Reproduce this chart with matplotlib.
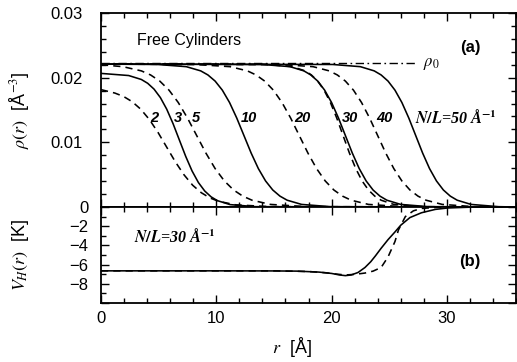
import matplotlib
matplotlib.use("Agg")
import matplotlib.pyplot as plt
from matplotlib.ticker import MultipleLocator, FuncFormatter

plt.rcParams['font.family'] = ['Liberation Sans', 'DejaVu Sans']
plt.rcParams['mathtext.fontset'] = 'stix'

# ---------------- data ----------------
# panel (a): density profiles rho(r) for several N/L
r_n2 = [0, 1.2, 1.95, 2.7, 3.45, 4.2, 4.95, 5.7, 6.45, 7.2, 7.95, 8.7, 9.45, 10.2, 11.7, 14.7, 36]
rho_n2 = [0.01815, 0.01762, 0.01710, 0.01629, 0.01512, 0.01352, 0.01152, 0.00925, 0.00698,
          0.00498, 0.00337, 0.00221, 0.00140, 0.00088, 0.00033, 0.00005, 0]

r_n3 = [0, 2.4, 3.5, 4.05, 4.6, 5.15, 5.7, 6.25, 6.8, 7.35, 7.9, 8.45, 9.0, 9.55, 10.1, 11.2, 13.4, 36]
rho_n3 = [0.02066, 0.02033, 0.01972, 0.01913, 0.01823, 0.01692, 0.01513, 0.01289, 0.01035,
          0.00782, 0.00557, 0.00378, 0.00247, 0.00157, 0.00098, 0.00037, 0.00005, 0]

r_n5 = [0, 1.9, 3.5, 4.3, 5.1, 5.9, 6.7, 7.5, 8.3, 9.1, 9.9, 10.7, 11.5, 12.3, 13.1, 14.7, 17.9, 36]
rho_n5 = [0.02200, 0.02170, 0.02105, 0.02042, 0.01947, 0.01807, 0.01616, 0.01376, 0.01105,
          0.00834, 0.00594, 0.00403, 0.00263, 0.00168, 0.00105, 0.00040, 0.00005, 0]

r_n10 = [0, 4.9, 7.4, 8.65, 9.275, 9.9, 10.525, 11.15, 11.775, 12.4, 13.025, 13.65, 14.275,
         14.9, 15.525, 16.15, 17.4, 19.9, 36]
rho_n10 = [0.02210, 0.02204, 0.02170, 0.02105, 0.02042, 0.01947, 0.01807, 0.01616, 0.01376,
           0.01105, 0.00834, 0.00594, 0.00403, 0.00263, 0.00168, 0.00105, 0.00040, 0.00005, 0]

r_n20 = [0, 8.2, 11.2, 12.7, 13.45, 14.2, 14.95, 15.7, 16.45, 17.2, 17.95, 18.7, 19.45,
         20.2, 20.95, 21.7, 23.2, 26.2, 36]
rho_n20 = [0.02210, 0.02204, 0.02170, 0.02105, 0.02042, 0.01947, 0.01807, 0.01616, 0.01376,
           0.01105, 0.00834, 0.00594, 0.00403, 0.00263, 0.00168, 0.00105, 0.00040, 0.00005, 0]

r_n30 = [0, 14.0, 16.4, 17.6, 18.2, 18.8, 19.4, 20.0, 20.6, 21.2, 21.8, 22.4, 23.0,
         23.6, 24.2, 24.8, 26.0, 28.4, 36]
rho_n30 = [0.02210, 0.02204, 0.02170, 0.02105, 0.02042, 0.01947, 0.01807, 0.01616, 0.01376,
           0.01105, 0.00834, 0.00594, 0.00403, 0.00263, 0.00168, 0.00105, 0.00040, 0.00005, 0]

r_n30d = [0, 14.4, 16.6, 17.7, 18.25, 18.8, 19.35, 19.9, 20.45, 21.0, 21.55, 22.1, 22.65,
          23.2, 23.75, 24.3, 25.4, 27.6, 36]
rho_n30d = [0.02210, 0.02204, 0.02170, 0.02105, 0.02042, 0.01947, 0.01807, 0.01616, 0.01376,
            0.01105, 0.00834, 0.00594, 0.00403, 0.00263, 0.00168, 0.00105, 0.00040, 0.00005, 0]

r_n40 = [0, 15.6, 18.4, 19.8, 20.5, 21.2, 21.9, 22.6, 23.3, 24.0, 24.7, 25.4, 26.1,
         26.8, 27.5, 28.2, 29.6, 32.4, 36]
rho_n40 = [0.02210, 0.02204, 0.02170, 0.02105, 0.02042, 0.01947, 0.01807, 0.01616, 0.01376,
           0.01105, 0.00834, 0.00594, 0.00403, 0.00263, 0.00168, 0.00105, 0.00040, 0.00005, 0]

r_n50 = [0, 20.1, 22.5, 23.7, 24.3, 24.9, 25.5, 26.1, 26.7, 27.3, 27.9, 28.5, 29.1,
         29.7, 30.3, 30.9, 32.1, 34.5, 36]
rho_n50 = [0.02210, 0.02204, 0.02170, 0.02105, 0.02042, 0.01947, 0.01807, 0.01616, 0.01376,
           0.01105, 0.00834, 0.00594, 0.00403, 0.00263, 0.00168, 0.00105, 0.00040, 0.00005, 0]

rho0_value = 0.0222
rho0_r = [0, 27.2]

# panel (b): Hartree potential V_H(r) for N/L = 30
r_vh_solid = [0, 10, 15, 17, 18.9, 20.0, 20.7, 21.2, 21.7, 22.3, 22.9, 23.4, 23.8, 24.3,
              24.9, 25.5, 26.0, 26.8, 27.8, 29.0, 30.1, 32.0, 36]
vh_solid = [-6.65, -6.65, -6.66, -6.68, -6.78, -6.92, -7.08, -7.15, -7.08, -6.82, -6.3, -5.7,
            -5.1, -4.3, -3.4, -2.6, -1.9, -1.1, -0.6, -0.25, -0.1, -0.02, 0]

r_vh_dash = [0, 15, 18, 19.5, 20.5, 21.2, 22.0, 22.9, 23.6, 24.3, 24.9, 25.5, 25.8, 26.4,
             27.1, 27.8, 29.0, 30.0, 36]
vh_dash = [-6.65, -6.65, -6.72, -6.85, -7.0, -7.08, -7.02, -6.88, -6.68, -6.3, -5.2, -3.6,
           -2.4, -1.0, -0.4, -0.15, -0.05, 0, 0]

curve_labels = ['2', '3', '5', '10', '20', '30', '40']
label_r = [4.65, 6.7, 8.2, 12.8, 17.5, 21.6, 24.6]
label_rho = 0.0137

# ---------------- figure ----------------
fig = plt.figure(figsize=(5.17, 3.62), dpi=100)
ax1 = fig.add_axes([101/517, 155/362, 415/517, 194/362])
ax2 = fig.add_axes([101/517, 59/362, 415/517, 96/362], sharex=ax1)

lw = 1.15
dash = (4.5, 3.2)
ax1.plot(r_n2, rho_n2, color='k', lw=lw, dashes=dash)
ax1.plot(r_n3, rho_n3, color='k', lw=lw)
ax1.plot(r_n5, rho_n5, color='k', lw=lw, dashes=dash)
ax1.plot(r_n10, rho_n10, color='k', lw=lw)
ax1.plot(r_n20, rho_n20, color='k', lw=lw, dashes=dash)
ax1.plot(r_n30, rho_n30, color='k', lw=lw)
ax1.plot(r_n30d, rho_n30d, color='k', lw=lw, dashes=dash)
ax1.plot(r_n40, rho_n40, color='k', lw=lw, dashes=dash)
ax1.plot(r_n50, rho_n50, color='k', lw=lw)
ax1.plot(rho0_r, [rho0_value, rho0_value], color='k', lw=1.0, dashes=(6, 2.5, 1.2, 2.5))

ax2.plot(r_vh_solid, vh_solid, color='k', lw=lw)
ax2.plot(r_vh_dash, vh_dash, color='k', lw=lw, dashes=dash)

ax1.set_xlim(0, 36)
ax1.set_ylim(0, 0.03)
ax2.set_ylim(-10, 0)

for ax in (ax1, ax2):
    ax.xaxis.set_major_locator(MultipleLocator(10))
    ax.xaxis.set_minor_locator(MultipleLocator(2))
    ax.tick_params(which='both', direction='in', top=True, right=True,
                   width=1.0, labelsize=12)
    ax.tick_params(which='major', length=6)
    ax.tick_params(which='minor', length=3.5)
    for s in ax.spines.values():
        s.set_linewidth(1.3)

ax1.yaxis.set_major_locator(MultipleLocator(0.01))
ax1.yaxis.set_minor_locator(MultipleLocator(0.002))
ax1.yaxis.set_major_formatter(FuncFormatter(lambda v, p: '' if abs(v) < 1e-9 else f'{v:.2f}'))
ax1.tick_params(axis='y', which='major', pad=13)
ax1.tick_params(labelbottom=False)

ax2.yaxis.set_major_locator(MultipleLocator(2))
ax2.yaxis.set_minor_locator(MultipleLocator(1))
ax2.yaxis.set_major_formatter(FuncFormatter(
    lambda v, p: '0' if abs(v) < 1e-9 else ('' if v < -9 else '\u2212' + f'{abs(v):.0f}')))
ax2.tick_params(axis='y', which='major', pad=9)
ax2.tick_params(axis='x', which='major', pad=6)

ax1.set_ylabel(r'$\rho(r)$  [Å$^{-3}$]', fontsize=13)
ax2.set_ylabel(r'$V_H(r)$  [K]', fontsize=13)
ax1.yaxis.set_label_coords(-0.168, 0.5)
ax2.yaxis.set_label_coords(-0.168, 0.5)
ax2.set_xlabel(r'$r$  [Å]', fontsize=13)
ax2.xaxis.set_label_coords((292 - 101) / 415, -0.33)

# annotations
ax1.text(3.1, 0.0258, 'Free Cylinders', fontsize=11.5, va='center', ha='left')
ax1.text(32.0, 0.0246, '(a)', fontsize=12, va='center', ha='center', fontweight='bold')
ax1.text(27.9, 0.0221, r'$\boldsymbol{\rho_0}$', fontsize=12, va='center', ha='left')
for t, x in zip(curve_labels, label_r):
    ax1.text(x, label_rho, t, fontsize=10.5, fontweight='bold', style='italic',
             ha='center', va='center')
ax1.text(27.2, label_rho, r'$\boldsymbol{N/L}$=50 Å$^{\mathbf{-1}}$', fontsize=11.5,
         fontweight='bold', style='italic', ha='left', va='center',
         family=['Liberation Serif'])

ax2.text(2.9, -3.1, r'$\boldsymbol{N/L}$=30 Å$^{\mathbf{-1}}$', fontsize=11.5,
         fontweight='bold', style='italic', ha='left', va='center',
         family=['Liberation Serif'])
ax2.text(32.0, -5.7, '(b)', fontsize=12, va='center', ha='center', fontweight='bold')

fig.savefig('out.png', dpi=100)
